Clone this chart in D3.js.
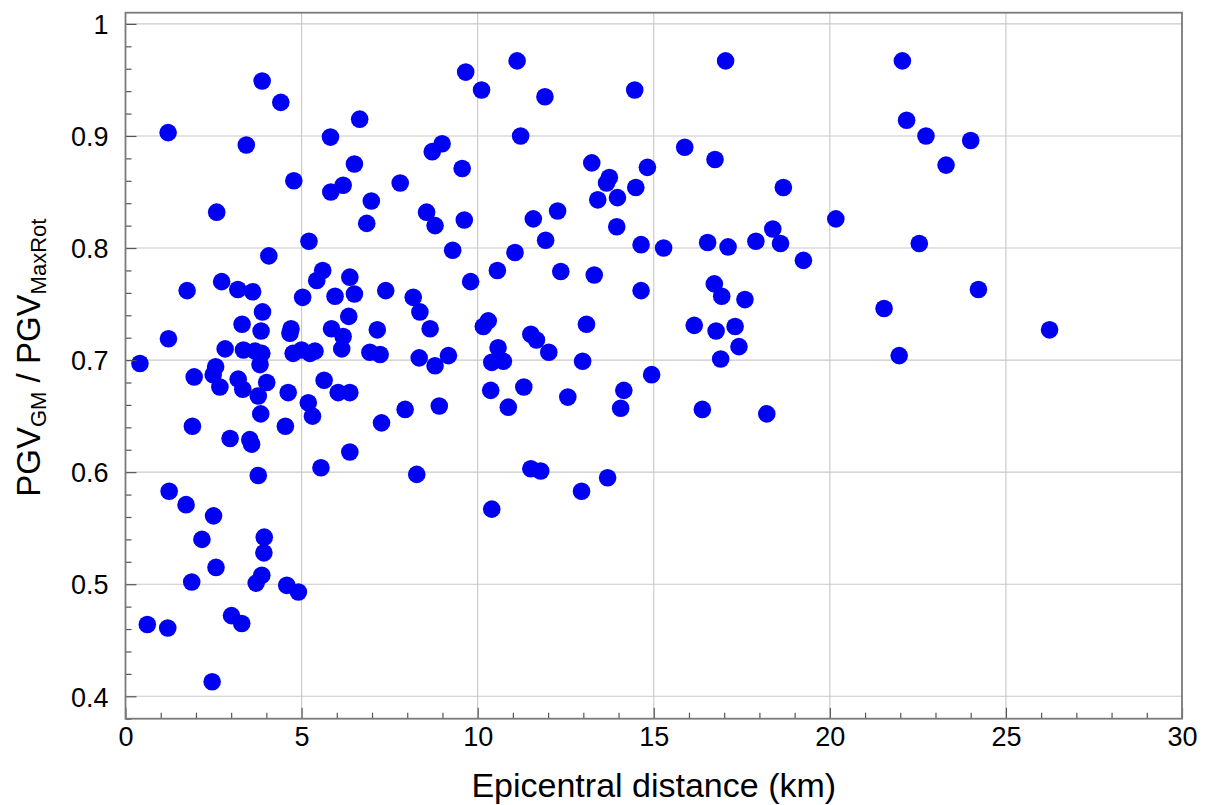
<!DOCTYPE html>
<html>
<head>
<meta charset="utf-8">
<script src="https://cdn.jsdelivr.net/npm/d3@7"></script>
<style>
	body { margin: 0; background: #fff; }
	text { font-family: "Liberation Sans", Arial, sans-serif; fill: #000; }
</style>
</head>
<body>
<svg id="chart" width="1209" height="805"></svg>
<script>
// epicentral distance (km)
const distance = [
	0.41, 0.62, 1.20, 1.21, 1.22, 1.24, 1.72, 1.75, 1.88, 1.90,
	1.95, 2.17, 2.46, 2.49, 2.50, 2.56, 2.57, 2.59, 2.68, 2.73,
	2.83, 2.97, 3.01, 3.19, 3.20, 3.30, 3.31, 3.33, 3.35, 3.43,
	3.53, 3.58, 3.61, 3.68, 3.71, 3.77, 3.77, 3.82, 3.84, 3.85,
	3.87, 3.87, 3.88, 3.89, 3.93, 3.94, 4.01, 4.07, 4.41, 4.54,
	4.58, 4.62, 4.67, 4.70, 4.76, 4.78, 4.91, 5.00, 5.03, 5.19,
	5.21, 5.24, 5.31, 5.38, 5.43, 5.55, 5.60, 5.64, 5.82, 5.83,
	5.85, 5.95, 6.04, 6.14, 6.18, 6.18, 6.34, 6.37, 6.37, 6.37,
	6.50, 6.50, 6.65, 6.85, 6.94, 6.98, 7.15, 7.23, 7.27, 7.39,
	7.80, 7.94, 8.17, 8.27, 8.34, 8.36, 8.55, 8.65, 8.71, 8.79,
	8.79, 8.91, 8.99, 9.17, 9.29, 9.56, 9.62, 9.66, 9.80, 10.11,
	10.16, 10.30, 10.37, 10.40, 10.40, 10.56, 10.58, 10.73, 10.87, 11.06,
	11.12, 11.22, 11.31, 11.51, 11.51, 11.58, 11.67, 11.79, 11.91, 11.93,
	12.02, 12.27, 12.36, 12.56, 12.95, 12.98, 13.09, 13.24, 13.31, 13.41,
	13.66, 13.69, 13.74, 13.95, 13.97, 14.06, 14.15, 14.46, 14.49, 14.64,
	14.64, 14.82, 14.94, 15.28, 15.88, 16.15, 16.38, 16.53, 16.72, 16.74,
	16.77, 16.90, 16.93, 17.04, 17.11, 17.31, 17.42, 17.59, 17.90, 18.21,
	18.38, 18.60, 18.68, 19.25, 20.17, 21.54, 21.97, 22.06, 22.18, 22.54,
	22.73, 23.30, 24.00, 24.22, 26.24
];

// PGV_GM / PGV_MaxRot
const ratio = [
	0.697, 0.464, 0.461, 0.903, 0.719, 0.583, 0.571, 0.762, 0.502, 0.641,
	0.685, 0.540, 0.413, 0.687, 0.561, 0.694, 0.515, 0.832, 0.676, 0.770,
	0.710, 0.630, 0.472, 0.763, 0.683, 0.465, 0.732, 0.674, 0.709, 0.892,
	0.629, 0.625, 0.761, 0.708, 0.501, 0.668, 0.597, 0.696, 0.652, 0.726,
	0.706, 0.508, 0.949, 0.743, 0.528, 0.542, 0.680, 0.793, 0.930, 0.641,
	0.499, 0.671, 0.724, 0.728, 0.706, 0.860, 0.493, 0.709, 0.756, 0.662,
	0.806, 0.706, 0.650, 0.708, 0.771, 0.604, 0.780, 0.682, 0.899, 0.850,
	0.728, 0.757, 0.671, 0.710, 0.721, 0.856, 0.739, 0.774, 0.671, 0.618,
	0.759, 0.875, 0.915, 0.822, 0.707, 0.842, 0.727, 0.705, 0.644, 0.762,
	0.858, 0.656, 0.756, 0.598, 0.702, 0.743, 0.832, 0.728, 0.886, 0.820,
	0.695, 0.659, 0.893, 0.704, 0.798, 0.871, 0.825, 0.957, 0.770, 0.941,
	0.730, 0.735, 0.673, 0.698, 0.567, 0.780, 0.711, 0.699, 0.658, 0.796,
	0.967, 0.900, 0.676, 0.723, 0.603, 0.826, 0.718, 0.601, 0.935, 0.807,
	0.707, 0.833, 0.779, 0.667, 0.583, 0.699, 0.732, 0.876, 0.776, 0.843,
	0.858, 0.595, 0.863, 0.819, 0.845, 0.657, 0.673, 0.941, 0.854, 0.803,
	0.762, 0.872, 0.687, 0.800, 0.890, 0.731, 0.656, 0.805, 0.768, 0.879,
	0.726, 0.701, 0.757, 0.967, 0.801, 0.730, 0.712, 0.754, 0.806, 0.652,
	0.817, 0.804, 0.854, 0.789, 0.826, 0.746, 0.704, 0.967, 0.914, 0.804,
	0.900, 0.874, 0.896, 0.763, 0.727
];

const xTicks = [0, 5, 10, 15, 20, 25, 30];
const yTicks = [0.4, 0.5, 0.6, 0.7, 0.8, 0.9, 1];
const xMinor = d3.range(1, 30).filter(d => d % 5 !== 0);
const yMinor = d3.range(0.38, 1.0, 0.02).filter(d => Math.abs(Math.round(d * 10) - d * 10) > 0.01);

const width = 1209, height = 805;
const margin = {top: 12.7, right: 27, bottom: 86.3, left: 125.5};
const innerW = width - margin.left - margin.right;
const innerH = height - margin.top - margin.bottom;
const fontTick = 27;
const fontTitle = 34;

const svg = d3.select("#chart");
const g = svg.append("g").attr("transform", "translate(" + margin.left + "," + margin.top + ")");

const x = d3.scaleLinear().domain([0, 30]).range([0, innerW]);
const y = d3.scaleLinear().domain([0.38, 1.01]).range([innerH, 0]);

// grid
g.append("g").selectAll("line").data(xTicks.slice(1, -1)).join("line")
	.attr("x1", d => x(d)).attr("x2", d => x(d))
	.attr("y1", 0).attr("y2", innerH)
	.style("stroke", "#c8c8c8").style("stroke-width", 1.1);
g.append("g").selectAll("line").data(yTicks).join("line")
	.attr("x1", 0).attr("x2", innerW)
	.attr("y1", d => y(d)).attr("y2", d => y(d))
	.style("stroke", "#c8c8c8").style("stroke-width", 1.1);

// points
g.append("g").selectAll("circle").data(distance).join("circle")
	.attr("cx", d => x(d))
	.attr("cy", (d, i) => y(ratio[i]))
	.attr("r", 8.8)
	.style("fill", "#0000f5");

// axes, ticks pointing inward
const xAxis = g.append("g").attr("transform", "translate(0," + innerH + ")")
	.call(d3.axisBottom(x).tickValues(xTicks).tickFormat(d3.format("d"))
		.tickSizeInner(-11).tickSizeOuter(0).tickPadding(8));
const xAxisMinor = g.append("g").attr("transform", "translate(0," + innerH + ")")
	.call(d3.axisBottom(x).tickValues(xMinor).tickFormat("").tickSizeInner(-6).tickSizeOuter(0));
const yAxis = g.append("g")
	.call(d3.axisLeft(y).tickValues(yTicks).tickFormat(d => d === 1 ? "1" : d3.format(".1f")(d))
		.tickSizeInner(-11).tickSizeOuter(0).tickPadding(17));
const yAxisMinor = g.append("g")
	.call(d3.axisLeft(y).tickValues(yMinor).tickFormat("").tickSizeInner(-6).tickSizeOuter(0));

[xAxis, xAxisMinor, yAxis, yAxisMinor].forEach(a => {
	a.select(".domain").remove();
	a.selectAll(".tick line").style("stroke", "#555").style("stroke-width", 1.2);
	a.selectAll(".tick text")
		.style("font-family", "'Liberation Sans', Arial, sans-serif")
		.style("font-size", fontTick + "px")
		.style("fill", "#000");
});
yAxis.selectAll(".tick text").attr("dy", "0.36em");

// frame
g.append("rect")
	.attr("x", 0).attr("y", 0).attr("width", innerW).attr("height", innerH)
	.style("fill", "none").style("stroke", "#7a7a7a").style("stroke-width", 1.8);

// axis titles
svg.append("text")
	.attr("x", margin.left + innerW / 2)
	.attr("y", 797)
	.attr("text-anchor", "middle")
	.style("font-size", fontTitle + "px")
	.text("Epicentral distance (km)");

const yTitle = svg.append("text")
	.attr("transform", "translate(40," + (margin.top + innerH / 2 - 8) + ") rotate(-90)")
	.attr("text-anchor", "middle")
	.style("font-size", "33px");
yTitle.append("tspan").text("PGV");
yTitle.append("tspan").attr("dy", 6).style("font-size", "22px").text("GM");
yTitle.append("tspan").attr("dy", -6).text(" / PGV");
yTitle.append("tspan").attr("dy", 6).style("font-size", "22px").text("MaxRot");
</script>
</body>
</html>
